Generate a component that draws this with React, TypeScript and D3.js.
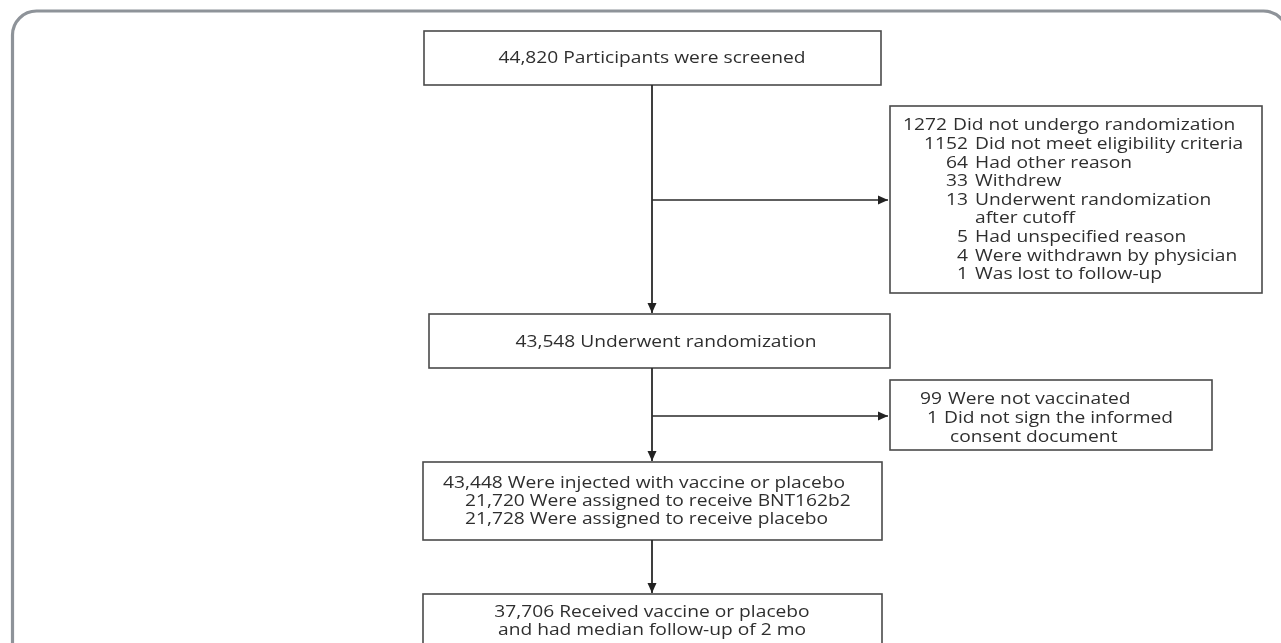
import React, { useEffect, useRef } from "react";
import * as d3 from "d3";

const W = 1281;
const H = 643;

// ---- Data (text content of the flow diagram) ----
const screenedLines = ["44,820 Participants were screened"];
const randomizedLines = ["43,548 Underwent randomization"];
const injectedLines = [
  "43,448 Were injected with vaccine or placebo",
  "21,720 Were assigned to receive BNT162b2",
  "21,728 Were assigned to receive placebo",
];
const followUpLines = ["37,706 Received vaccine or placebo", "and had median follow-up of 2 mo"];

const exclusionCounts = ["1272", "1152", "64", "33", "13", "", "5", "4", "1"];
const exclusionReasons = [
  "Did not undergo randomization",
  "Did not meet eligibility criteria",
  "Had other reason",
  "Withdrew",
  "Underwent randomization",
  "after cutoff",
  "Had unspecified reason",
  "Were withdrawn by physician",
  "Was lost to follow-up",
];
const exclusionLevels = [0, 1, 1, 1, 1, 2, 1, 1, 1];

const notVaccCounts = ["99", "1", ""];
const notVaccReasons = ["Were not vaccinated", "Did not sign the informed", "consent document"];
const notVaccLevels = [0, 1, 2];

const FONT = "'Open Sans', 'Noto Sans', sans-serif";
const SX = 1.24;
const FS = 15.5;
const TEXT_COLOR = "#2f2f2f";

export default function App() {
  const ref = useRef<SVGSVGElement | null>(null);

  useEffect(() => {
    const svg = d3.select(ref.current);
    svg.selectAll("*").remove();

    const defs = svg.append("defs");
    defs
      .append("filter")
      .attr("id", "soft")
      .append("feGaussianBlur")
      .attr("stdDeviation", 0.35);
    defs
      .append("marker")
      .attr("id", "arrow")
      .attr("markerUnits", "userSpaceOnUse")
      .attr("markerWidth", 11)
      .attr("markerHeight", 10)
      .attr("refX", 10)
      .attr("refY", 5)
      .attr("orient", "auto")
      .append("path")
      .attr("d", "M0,0.5 L10,5 L0,9.5 Z")
      .attr("fill", "#222");

    // outer frame
    svg
      .append("rect")
      .attr("x", 12.5)
      .attr("y", 11)
      .attr("width", 1275)
      .attr("height", 700)
      .attr("rx", 24)
      .attr("fill", "#fff")
      .attr("stroke", "#8e9399")
      .attr("stroke-width", 3.2);

    const g = svg.append("g").attr("filter", "url(#soft)");

    const spineX = 652;
    const mainBoxes = [
      { x: 424, y: 31, w: 457, h: 54 },
      { x: 429, y: 314, w: 461, h: 54 },
      { x: 423, y: 462, w: 459, h: 78 },
      { x: 423, y: 594, w: 459, h: 80 },
    ];
    const sideBoxes = [
      { x: 890, y: 106, w: 372, h: 187, branchY: 200 },
      { x: 890, y: 380, w: 322, h: 70, branchY: 416 },
    ];

    const boxStyle = (sel: any) =>
      sel.attr("fill", "#fff").attr("stroke", "#4a4a4a").attr("stroke-width", 1.6);

    g.selectAll("rect.main")
      .data(mainBoxes)
      .join("rect")
      .attr("class", "main")
      .attr("x", (d) => d.x)
      .attr("y", (d) => d.y)
      .attr("width", (d) => d.w)
      .attr("height", (d) => d.h)
      .call(boxStyle);

    g.selectAll("rect.side")
      .data(sideBoxes)
      .join("rect")
      .attr("class", "side")
      .attr("x", (d) => d.x)
      .attr("y", (d) => d.y)
      .attr("width", (d) => d.w)
      .attr("height", (d) => d.h)
      .call(boxStyle);

    // vertical connectors
    const verticals = d3.range(mainBoxes.length - 1).map((i) => ({
      y1: mainBoxes[i].y + mainBoxes[i].h,
      y2: mainBoxes[i + 1].y - 1,
    }));
    g.selectAll("line.v")
      .data(verticals)
      .join("line")
      .attr("class", "v")
      .attr("x1", spineX)
      .attr("x2", spineX)
      .attr("y1", (d) => d.y1)
      .attr("y2", (d) => d.y2)
      .attr("stroke", "#2a2a2a")
      .attr("stroke-width", 1.8)
      .attr("marker-end", "url(#arrow)");

    // horizontal branches
    g.selectAll("line.h")
      .data(sideBoxes)
      .join("line")
      .attr("class", "h")
      .attr("x1", spineX)
      .attr("x2", (d) => d.x - 2)
      .attr("y1", (d) => d.branchY)
      .attr("y2", (d) => d.branchY)
      .attr("stroke", "#2a2a2a")
      .attr("stroke-width", 1.6)
      .attr("marker-end", "url(#arrow)");

    const addText = (
      txt: string,
      x: number,
      y: number,
      anchor: string,
      sx: number = SX,
      fs: number = FS
    ) => {
      g.append("text")
        .attr("transform", `translate(${x},${y}) scale(${sx},1)`)
        .attr("text-anchor", anchor)
        .attr("dy", "0.35em")
        .attr("font-family", FONT)
        .attr("font-size", fs)
        .attr("fill", TEXT_COLOR)
        .text(txt);
    };

    // main box texts
    screenedLines.forEach((t, i) => addText(t, 652, 58 + i * 18, "middle"));
    randomizedLines.forEach((t, i) => addText(t, 666, 342 + i * 18, "middle"));
    injectedLines.forEach((t, i) => addText(t, i === 0 ? 443 : 465, 483 + i * 18, "start"));
    followUpLines.forEach((t, i) => addText(t, 652, 612 + i * 18, "middle"));

    // exclusion list
    const exNumEnd = [947, 968, 968];
    const exTextStart = [953, 975, 975];
    exclusionReasons.forEach((r, i) => {
      const lv = exclusionLevels[i];
      const y = 125 + i * 18.6;
      if (exclusionCounts[i]) addText(exclusionCounts[i], exNumEnd[lv], y, "end");
      addText(r, exTextStart[lv], y, "start");
    });

    // not vaccinated list
    const nvNumEnd = [942, 938, 938];
    const nvTextStart = [948, 944, 950];
    notVaccReasons.forEach((r, i) => {
      const lv = notVaccLevels[i];
      const y = 399 + i * 19;
      if (notVaccCounts[i]) addText(notVaccCounts[i], nvNumEnd[lv], y, "end");
      addText(r, nvTextStart[lv], y, "start");
    });
  }, []);

  return (
    <svg
      ref={ref}
      width={W}
      height={H}
      viewBox={`0 0 ${W} ${H}`}
      style={{ position: "absolute", left: 0, top: 0, background: "#fff" }}
    />
  );
}
